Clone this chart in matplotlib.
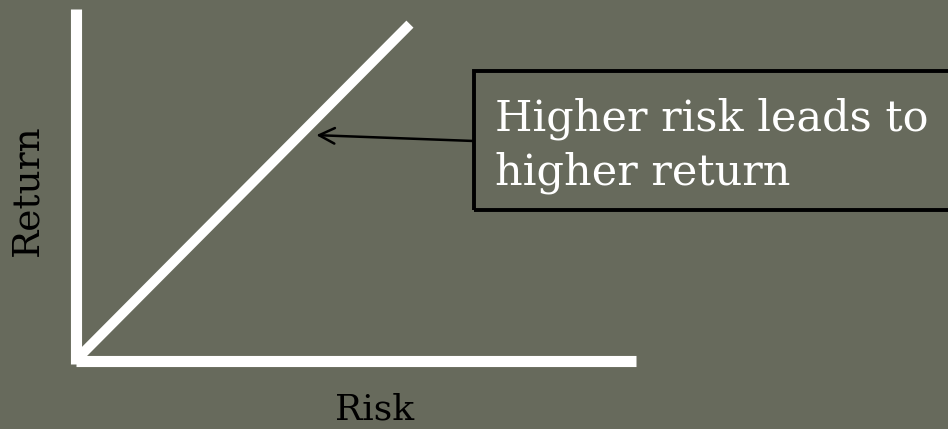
import matplotlib.pyplot as plt
from matplotlib.patches import Rectangle

# chart values: a straight risk/return relationship
risk = [0, 10]
ret = [0, 10]
risk_max = 16.76
ret_max = 10.45
note_point = (7.2, 6.7)
note_text = 'Higher risk leads to\nhigher return'
x_label = 'Risk'
y_label = 'Return'

W, H = 948, 429
bg = '#676a5c'
fig = plt.figure(figsize=(W / 100, H / 100), dpi=100, facecolor=bg)

ax = fig.add_axes([75.5 / W, (H - 360.5) / H, (636 - 75.5) / W, (360.5 - 9) / H])
ax.set_facecolor(bg)
ax.set_xlim(0, risk_max)
ax.set_ylim(0, ret_max)
for s in ax.spines.values():
    s.set_visible(False)
ax.set_xticks([])
ax.set_yticks([])

# axes drawn as thick white lines
ax.plot([0, 0], [-0.1, ret_max], color='white', lw=8, solid_capstyle='butt', clip_on=False)
ax.plot([0, risk_max], [0, 0], color='white', lw=8, solid_capstyle='butt', clip_on=False)
ax.plot(risk, ret, color='white', lw=7.2, solid_capstyle='butt', clip_on=False)

# callout box (runs off the right edge)
fig.add_artist(Rectangle((474 / W, (H - 210) / H), 500 / W, 139 / H,
                         transform=fig.transFigure, facecolor='none',
                         edgecolor='black', lw=2.8))
fig.text(495 / W, (H - 98) / H, note_text, color='white', fontsize=31,
         family='DejaVu Serif', va='top', ha='left', linespacing=1.33)

ax.annotate('', xy=note_point, xycoords='data',
            xytext=(474 / W, (H - 141) / H), textcoords='figure fraction',
            arrowprops=dict(arrowstyle='->', color='black', lw=1.8,
                            mutation_scale=28, shrinkA=0, shrinkB=0))

fig.text(27 / W, (H - 190) / H, y_label, rotation=90, color='black',
         fontsize=27, family='DejaVu Serif', ha='center', va='center')
fig.text(375 / W, 2 / H, x_label, color='black',
         fontsize=26, family='DejaVu Serif', ha='center', va='bottom')

fig.savefig('out.png', dpi=100, facecolor=bg)
